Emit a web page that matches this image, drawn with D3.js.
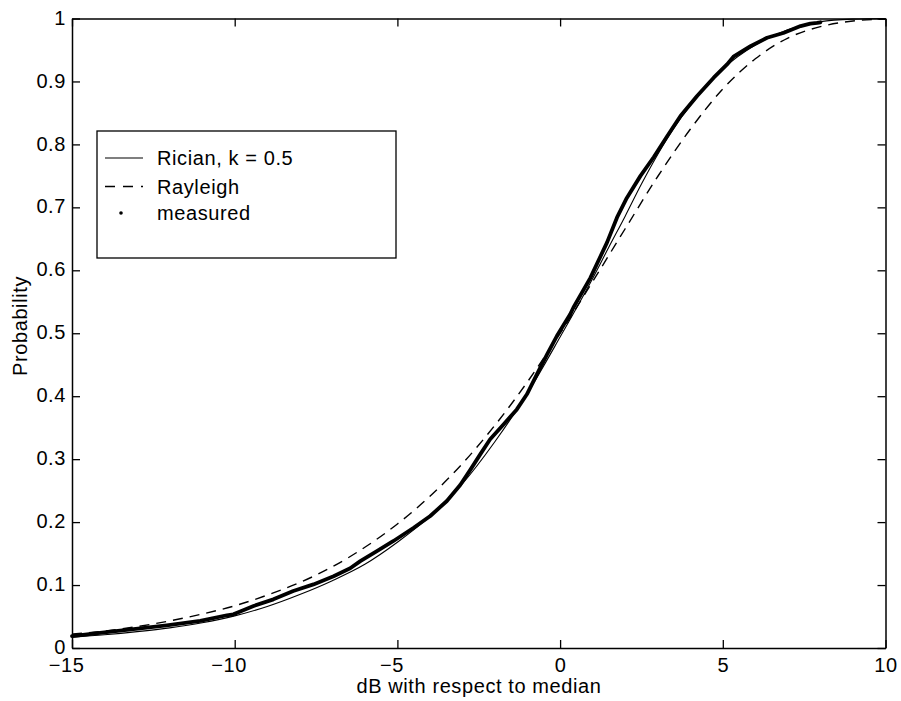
<!DOCTYPE html>
<html>
<head>
<meta charset="utf-8">
<script src="https://cdn.jsdelivr.net/npm/d3@7"></script>
<style>
  html, body { margin: 0; padding: 0; background: #fff; }
  svg text { font-family: "Liberation Sans", Arial, Helvetica, sans-serif; font-size: 20px; letter-spacing: 0.6px; fill: #000; }
</style>
</head>
<body>
<svg id="chart" width="901" height="701"></svg>
<script>
// ---- data ----
const xTicks = [-15, -10, -5, 0, 5, 10];
const yTicks = [0, 0.1, 0.2, 0.3, 0.4, 0.5, 0.6, 0.7, 0.8, 0.9, 1];

const ricianX = [-15, -14, -13, -12, -11, -10, -9, -8, -7, -6, -5, -4, -3, -2, -1, 0, 1, 1.5, 2, 2.5, 3, 3.5, 4, 4.5, 5, 6, 7, 8, 9, 10];
const ricianP = [0.017, 0.021, 0.026, 0.032, 0.040, 0.051, 0.066, 0.085, 0.107, 0.133, 0.168, 0.209, 0.261, 0.328, 0.405, 0.494, 0.587, 0.637, 0.686, 0.737, 0.784, 0.826, 0.862, 0.893, 0.920, 0.958, 0.982, 0.995, 0.999, 1.0];

const rayleighX = [-15, -14, -13, -12, -11, -10, -9, -8, -7, -6, -5, -4, -3, -2, -1, 0, 1, 2, 3, 4, 5, 6, 7, 8, 9, 10];
const rayleighP = [0.022, 0.027, 0.034, 0.043, 0.054, 0.067, 0.084, 0.104, 0.129, 0.160, 0.197, 0.241, 0.293, 0.354, 0.423, 0.500, 0.582, 0.666, 0.749, 0.824, 0.888, 0.936, 0.969, 0.987, 0.996, 0.999];

const measuredX = [-15, -14.14, -13.11, -12.09, -11.06, -10.24, -10.04, -9.83, -9.42, -8.81, -8.20, -7.58, -6.96, -6.45, -6.14, -5.63, -5.12, -4.50, -3.99, -3.48, -3.07, -2.76, -2.45, -2.15, -1.74, -1.33, -1.02, -0.71, -0.40, -0.10, 0.31, 0.41, 0.93, 1.44, 1.75, 2.05, 2.47, 2.88, 3.29, 3.70, 4.21, 4.72, 5.13, 5.34, 5.85, 6.36, 6.86, 7.39, 7.69, 7.90, 8.00];
const measuredP = [0.019, 0.024, 0.030, 0.036, 0.043, 0.052, 0.0535, 0.058, 0.0667, 0.0773, 0.0905, 0.101, 0.114, 0.1266, 0.138, 0.154, 0.170, 0.191, 0.2097, 0.2335, 0.259, 0.283, 0.308, 0.3315, 0.355, 0.379, 0.403, 0.435, 0.4665, 0.4956, 0.530, 0.541, 0.588, 0.644, 0.684, 0.715, 0.750, 0.780, 0.813, 0.845, 0.877, 0.906, 0.927, 0.940, 0.956, 0.9695, 0.977, 0.988, 0.992, 0.993, 0.994];

const legendLabels = ["Rician, k = 0.5", "Rayleigh", "measured"];
const xLabel = "dB with respect to median";
const yLabel = "Probability";

// ---- layout ----
const svg = d3.select("#chart");
const L = 72, R = 885.5, T = 18.5, B = 648;
const x = d3.scaleLinear().domain([-15, 10]).range([L, R]);
const y = d3.scaleLinear().domain([0, 1]).range([B, T]);

const fmtX = d => (d < 0 ? "\u2212" + Math.abs(d) : String(d));
const fmtY = d => String(+d.toFixed(1));

// axes
const gB = svg.append("g").attr("transform", `translate(0,${B})`)
  .call(d3.axisBottom(x).tickValues(xTicks).tickSizeInner(-8).tickSizeOuter(0).tickPadding(10).tickFormat(fmtX));
gB.selectAll(".tick text").attr("dx", d => d < 0 ? -6 : 0);
const gL = svg.append("g").attr("transform", `translate(${L},0)`)
  .call(d3.axisLeft(y).tickValues(yTicks).tickSizeInner(-8).tickSizeOuter(0).tickPadding(6).tickFormat(fmtY));
gL.selectAll(".tick text").attr("dy", "0.28em");
const gT = svg.append("g").attr("transform", `translate(0,${T})`)
  .call(d3.axisTop(x).tickValues(xTicks).tickSizeInner(-8).tickSizeOuter(0).tickFormat(""));
const gR = svg.append("g").attr("transform", `translate(${R},0)`)
  .call(d3.axisRight(y).tickValues(yTicks).tickSizeInner(-8).tickSizeOuter(0).tickFormat(""));

[gB, gL, gT, gR].forEach(g => {
  g.select(".domain").attr("stroke", "#000").attr("stroke-width", 1.5);
  g.selectAll(".tick line").attr("stroke", "#000").attr("stroke-width", 1.3);
  g.selectAll(".tick text").style("font-family", "'Liberation Sans', Arial, Helvetica, sans-serif").style("font-size", "20px").attr("fill", "#000");
  g.attr("font-family", null).attr("font-size", null);
});

// curves
const line = d3.line().x(d => x(d[0])).y(d => y(d[1])).curve(d3.curveLinear);
const smooth = d3.line().x(d => x(d[0])).y(d => y(d[1])).curve(d3.curveMonotoneX);
const rician = ricianX.map((v, i) => [v, ricianP[i]]);
const rayleigh = rayleighX.map((v, i) => [v, rayleighP[i]]);
const measured = measuredX.map((v, i) => [v, measuredP[i]]);

svg.append("path").attr("d", smooth(rayleigh)).attr("fill", "none")
  .attr("stroke", "#000").attr("stroke-width", 1.4).attr("stroke-dasharray", "10,7");
svg.append("path").attr("d", line(measured)).attr("fill", "none")
  .attr("stroke", "#000").attr("stroke-width", 3.8).attr("stroke-linejoin", "round").attr("stroke-linecap", "round");
svg.append("path").attr("d", smooth(rician)).attr("fill", "none")
  .attr("stroke", "#000").attr("stroke-width", 1.1);

// legend
const lg = svg.append("g");
lg.append("rect").attr("x", 97).attr("y", 131).attr("width", 299).attr("height", 127)
  .attr("fill", "#fff").attr("stroke", "#000").attr("stroke-width", 1.3);
const rowY = [158, 186.5, 213];
lg.append("line").attr("x1", 105).attr("x2", 143).attr("y1", rowY[0]).attr("y2", rowY[0])
  .attr("stroke", "#000").attr("stroke-width", 1.1);
lg.append("line").attr("x1", 105).attr("x2", 143).attr("y1", rowY[1]).attr("y2", rowY[1])
  .attr("stroke", "#000").attr("stroke-width", 1.4).attr("stroke-dasharray", "10,8");
lg.append("circle").attr("cx", 121).attr("cy", rowY[2]).attr("r", 1.8).attr("fill", "#000");
legendLabels.forEach((t, i) => {
  lg.append("text").attr("x", 157).attr("y", rowY[i]).attr("dy", "0.35em").text(t);
});

// axis titles
svg.append("text").attr("x", 479).attr("y", 693).attr("text-anchor", "middle").text(xLabel);
svg.append("text").attr("transform", "translate(27,326) rotate(-90)").attr("text-anchor", "middle").text(yLabel);
</script>
</body>
</html>
